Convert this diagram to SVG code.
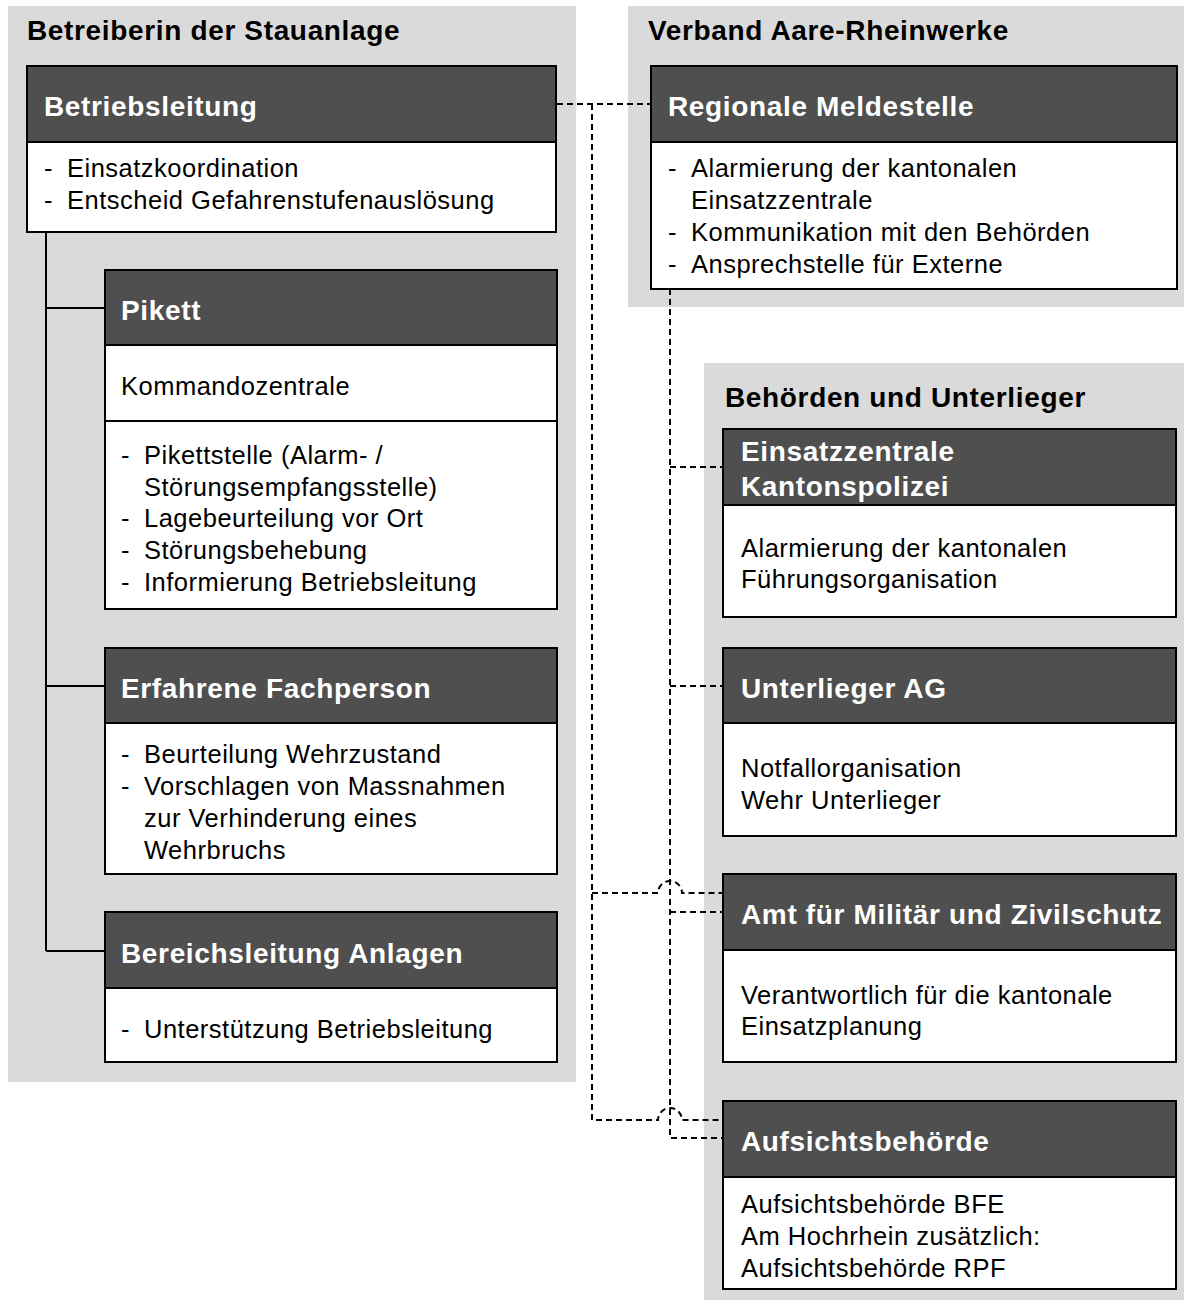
<svg xmlns="http://www.w3.org/2000/svg" width="1185" height="1304" viewBox="0 0 1185 1304">
<style>
.bg{fill:#dadada}
.hd{fill:#4f4f4f;stroke:#000;stroke-width:2}
.bd{fill:#fff;stroke:#000;stroke-width:2}
.t{font-family:"Liberation Sans",Arial,sans-serif;font-weight:bold;font-size:28px;letter-spacing:0.65px;fill:#000}
.h{font-family:"Liberation Sans",Arial,sans-serif;font-weight:bold;font-size:28px;letter-spacing:0.65px;fill:#fff}
.b{font-family:"Liberation Sans",Arial,sans-serif;font-size:25.5px;letter-spacing:0.5px;fill:#000}
.tree{fill:none;stroke:#000;stroke-width:2}
.dash{fill:none;stroke:#000;stroke-width:2;stroke-dasharray:6 4}
</style>
<g id="group-betreiberin">
<rect class="bg" x="8" y="6" width="568" height="1076"/>
<text class="t" x="27" y="40">Betreiberin der Stauanlage</text>
</g>
<g id="group-verband">
<rect class="bg" x="628" y="6" width="556" height="301"/>
<text class="t" x="648" y="40">Verband Aare-Rheinwerke</text>
</g>
<g id="group-behoerden">
<rect class="bg" x="704" y="363" width="480" height="937"/>
<text class="t" x="725" y="407">Behörden und Unterlieger</text>
</g>
<g id="connectors">
<path class="tree" d="M46,232 V951 M46,308 H105 M46,686 H105 M46,951 H105"/>
<path class="dash" d="M557,104 H651"/>
<path class="dash" d="M592,104 V1120 H658 A12,12 0 0 1 682,1120 H723"/>
<path class="dash" d="M592,893 H658 A12,12 0 0 1 682,893 H723"/>
<path class="dash" d="M670,289 V1138 H723"/>
<path class="dash" d="M670,467 H723 M670,686 H723 M670,912 H723"/>
</g>
<g id="betriebsleitung">
<rect class="bd" x="27" y="142" width="529" height="90"/>
<rect class="hd" x="27" y="66" width="529" height="76"/>
<text class="h" x="44" y="116">Betriebsleitung</text>
<text class="b" x="44" y="177">-</text><text class="b" x="67" y="177">Einsatzkoordination</text>
<text class="b" x="44" y="209">-</text><text class="b" x="67" y="209">Entscheid Gefahrenstufenauslösung</text>
</g>
<g id="pikett">
<rect class="bd" x="105" y="345" width="452" height="76"/>
<rect class="bd" x="105" y="421" width="452" height="188"/>
<rect class="hd" x="105" y="270" width="452" height="75"/>
<text class="h" x="121" y="320">Pikett</text>
<text class="b" x="121" y="395">Kommandozentrale</text>
<text class="b" x="121" y="464">-</text><text class="b" x="144" y="464">Pikettstelle (Alarm- /</text>
<text class="b" x="144" y="496">Störungsempfangsstelle)</text>
<text class="b" x="121" y="527">-</text><text class="b" x="144" y="527">Lagebeurteilung vor Ort</text>
<text class="b" x="121" y="559">-</text><text class="b" x="144" y="559">Störungsbehebung</text>
<text class="b" x="121" y="591">-</text><text class="b" x="144" y="591">Informierung Betriebsleitung</text>
</g>
<g id="fachperson">
<rect class="bd" x="105" y="723" width="452" height="151"/>
<rect class="hd" x="105" y="648" width="452" height="75"/>
<text class="h" x="121" y="698">Erfahrene Fachperson</text>
<text class="b" x="121" y="763">-</text><text class="b" x="144" y="763">Beurteilung Wehrzustand</text>
<text class="b" x="121" y="795">-</text><text class="b" x="144" y="795">Vorschlagen von Massnahmen</text>
<text class="b" x="144" y="827">zur Verhinderung eines</text>
<text class="b" x="144" y="859">Wehrbruchs</text>
</g>
<g id="bereichsleitung">
<rect class="bd" x="105" y="988" width="452" height="74"/>
<rect class="hd" x="105" y="912" width="452" height="76"/>
<text class="h" x="121" y="963">Bereichsleitung Anlagen</text>
<text class="b" x="121" y="1038">-</text><text class="b" x="144" y="1038">Unterstützung Betriebsleitung</text>
</g>
<g id="meldestelle">
<rect class="bd" x="651" y="142" width="526" height="147"/>
<rect class="hd" x="651" y="66" width="526" height="76"/>
<text class="h" x="668" y="116">Regionale Meldestelle</text>
<text class="b" x="668" y="177">-</text><text class="b" x="691" y="177">Alarmierung der kantonalen</text>
<text class="b" x="691" y="209">Einsatzzentrale</text>
<text class="b" x="668" y="241">-</text><text class="b" x="691" y="241">Kommunikation mit den Behörden</text>
<text class="b" x="668" y="273">-</text><text class="b" x="691" y="273">Ansprechstelle für Externe</text>
</g>
<g id="einsatzzentrale">
<rect class="bd" x="723" y="505" width="453" height="112"/>
<rect class="hd" x="723" y="429" width="453" height="76"/>
<text class="h" x="741" y="461">Einsatzzentrale</text>
<text class="h" x="741" y="496">Kantonspolizei</text>
<text class="b" x="741" y="557">Alarmierung der kantonalen</text>
<text class="b" x="741" y="588">Führungsorganisation</text>
</g>
<g id="unterlieger">
<rect class="bd" x="723" y="723" width="453" height="113"/>
<rect class="hd" x="723" y="648" width="453" height="75"/>
<text class="h" x="741" y="698">Unterlieger AG</text>
<text class="b" x="741" y="777">Notfallorganisation</text>
<text class="b" x="741" y="809">Wehr Unterlieger</text>
</g>
<g id="amt">
<rect class="bd" x="723" y="950" width="453" height="112"/>
<rect class="hd" x="723" y="874" width="453" height="76"/>
<text class="h" x="741" y="924">Amt für Militär und Zivilschutz</text>
<text class="b" x="741" y="1004">Verantwortlich für die kantonale</text>
<text class="b" x="741" y="1035">Einsatzplanung</text>
</g>
<g id="aufsicht">
<rect class="bd" x="723" y="1177" width="453" height="112"/>
<rect class="hd" x="723" y="1101" width="453" height="76"/>
<text class="h" x="741" y="1151">Aufsichtsbehörde</text>
<text class="b" x="741" y="1213">Aufsichtsbehörde BFE</text>
<text class="b" x="741" y="1245">Am Hochrhein zusätzlich:</text>
<text class="b" x="741" y="1277">Aufsichtsbehörde RPF</text>
</g>
</svg>
